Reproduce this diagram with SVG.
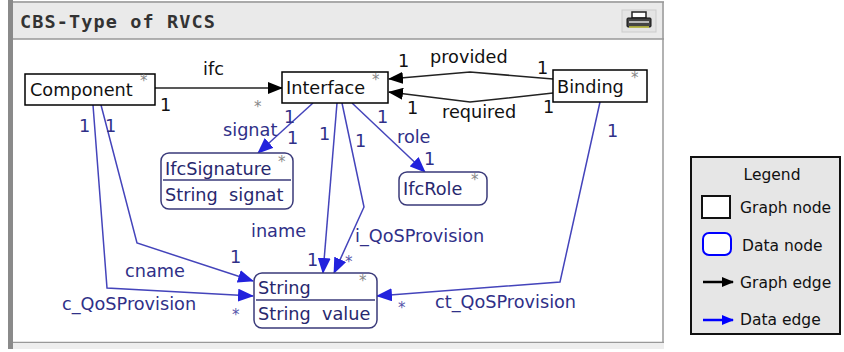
<svg xmlns="http://www.w3.org/2000/svg" width="844" height="352" viewBox="0 0 844 352">
<defs>
<marker id="ab" markerUnits="userSpaceOnUse" markerWidth="15" markerHeight="12" refX="14" refY="6" orient="auto"><path d="M0,0 L15,6 L0,12 z" fill="#000"/></marker>
<marker id="au" markerUnits="userSpaceOnUse" markerWidth="16" markerHeight="13" refX="15" refY="6.5" orient="auto"><path d="M0,0 L16,6.5 L0,13 z" fill="#2222dd"/></marker>
<marker id="lb" markerUnits="userSpaceOnUse" markerWidth="12" markerHeight="12" refX="11" refY="6" orient="auto"><path d="M0,1 L12,6 L0,11 z" fill="#000"/></marker>
<marker id="lu" markerUnits="userSpaceOnUse" markerWidth="12" markerHeight="12" refX="11" refY="6" orient="auto"><path d="M0,1 L12,6 L0,11 z" fill="#0000ff"/></marker>
</defs>
<style>
text{font-family:"DejaVu Sans","Liberation Sans",sans-serif;font-size:17.7px}
.gn{fill:#fff;stroke:#000;stroke-width:1.5}
.dn{fill:#fff;stroke:#3a3a7a;stroke-width:1.5}
.ge{fill:none;stroke:#222;stroke-width:1.5}
.de{fill:none;stroke:#4444bb;stroke-width:1.5}
.k{fill:#111}
.b{fill:#303088}
.dt{fill:#28286e}
.st{fill:#888;font-size:15px}
.sb{fill:#5555aa;font-size:15px}
.lg{font-size:15.5px;fill:#111}
</style>
<!-- window frame -->
<rect x="0" y="0" width="844" height="352" fill="#fff"/>
<rect x="13" y="2" width="651" height="37" fill="#eaeaea"/>
<line x1="13" y1="2" x2="664" y2="2" stroke="#aaa" stroke-width="2"/>
<line x1="13" y1="39" x2="664" y2="39" stroke="#999" stroke-width="1.5"/>
<rect x="13" y="40" width="650" height="302" fill="#fff"/>
<line x1="663" y1="2" x2="663" y2="343" stroke="#999" stroke-width="1.5"/>
<line x1="13" y1="342.5" x2="664" y2="342.5" stroke="#999" stroke-width="1.5"/>
<rect x="13" y="343" width="651" height="6" fill="#eee"/>
<rect x="8" y="0" width="5" height="349" fill="#8a8a8a"/>
<text x="20" y="28" font-weight="bold" fill="#333" textLength="195" lengthAdjust="spacing" style="font-family:'DejaVu Sans Mono',monospace;font-size:18.5px">CBS-Type of RVCS</text>
<g id="printer">
<rect x="622" y="10" width="34" height="22" fill="#e4e4e4" stroke="#ccc"/>
<rect x="632" y="12" width="14" height="6" fill="#fff" stroke="#222" stroke-width="1.5"/>
<rect x="627" y="18" width="24" height="9" rx="1" fill="#444" stroke="#111"/>
<line x1="629" y1="22" x2="649" y2="22" stroke="#ddd" stroke-width="1.5"/>
<line x1="629" y1="27" x2="649" y2="27" stroke="#cc4" stroke-width="1.5"/>
</g>
<!-- connectors -->
<g id="connectors">
<path class="ge" d="M155,88 L282,88" marker-end="url(#ab)"/>
<path class="ge" d="M553,79 L470,72 L389,79" marker-end="url(#ab)"/>
<path class="ge" d="M553,93 L470,102 L389,92" marker-end="url(#ab)"/>
<path class="de" d="M313,103 L258,153" marker-end="url(#au)"/>
<path class="de" d="M337,103 L323,273" marker-end="url(#au)"/>
<path class="de" d="M342,103 L364,207 L334,273" marker-end="url(#au)"/>
<path class="de" d="M352,103 L425,172" marker-end="url(#au)"/>
<path class="de" d="M101,105 L137,243 L253,281" marker-end="url(#au)"/>
<path class="de" d="M93,105 L107,288 L253,296" marker-end="url(#au)"/>
<path class="de" d="M600,102 L560,282 L377,296" marker-end="url(#au)"/>
<text class="k" x="203" y="75">ifc</text>
<text class="k" x="160" y="111">1</text>
<text class="st" x="254" y="112">*</text>
<text class="k" x="430" y="63">provided</text>
<text class="k" x="442" y="118">required</text>
<text class="k" x="398" y="67">1</text>
<text class="k" x="537" y="74">1</text>
<text class="k" x="407" y="114">1</text>
<text class="k" x="543" y="113">1</text>
<text class="b" x="223" y="136">signat</text>
<text class="b" x="284" y="123">1</text>
<text class="b" x="287" y="144">1</text>
<text class="b" x="251" y="237">iname</text>
<text class="b" x="319" y="140">1</text>
<text class="b" x="307" y="266">1</text>
<text class="b" x="355" y="242">i_QoSProvision</text>
<text class="b" x="355" y="147">1</text>
<text class="sb" x="345" y="267">*</text>
<text class="b" x="397" y="143">role</text>
<text class="b" x="377" y="123">1</text>
<text class="b" x="424" y="165">1</text>
<text class="b" x="125" y="277">cname</text>
<text class="b" x="105" y="132">1</text>
<text class="b" x="79" y="132">1</text>
<text class="b" x="230" y="263">1</text>
<text class="b" x="62" y="310">c_QoSProvision</text>
<text class="sb" x="232" y="320">*</text>
<text class="b" x="435" y="308">ct_QoSProvision</text>
<text class="b" x="607" y="137">1</text>
<text class="sb" x="398" y="313">*</text>
</g>
<!-- nodes -->
<g id="Component">
<rect class="gn" x="25" y="74" width="130" height="31"/>
<text class="k" x="30" y="96">Component</text>
<text class="st" x="140" y="86">*</text>
</g>
<g id="Interface">
<rect class="gn" x="282" y="72" width="106" height="31"/>
<text class="k" x="286" y="94">Interface</text>
<text class="st" x="372" y="85">*</text>
</g>
<g id="Binding">
<rect class="gn" x="553" y="70" width="94" height="32"/>
<text class="k" x="557" y="93">Binding</text>
<text class="st" x="631" y="83">*</text>
</g>
<g id="IfcSignature">
<rect class="dn" x="161" y="153" width="132" height="56" rx="8"/>
<line x1="163" y1="180" x2="291" y2="180" stroke="#3a3a7a" stroke-width="1.5"/>
<text class="dt" x="165" y="175">IfcSignature</text>
<text class="dt" x="165" y="201" xml:space="preserve">String  signat</text>
<text class="st" x="278" y="167">*</text>
</g>
<g id="IfcRole">
<rect class="dn" x="399" y="172" width="88" height="33" rx="8"/>
<text class="dt" x="403" y="195">IfcRole</text>
<text class="st" x="471" y="185">*</text>
</g>
<g id="String">
<rect class="dn" x="254" y="273" width="123" height="55" rx="8"/>
<line x1="256" y1="300" x2="375" y2="300" stroke="#3a3a7a" stroke-width="1.5"/>
<text class="dt" x="258" y="294">String</text>
<text class="dt" x="258" y="320" xml:space="preserve">String  value</text>
<text class="st" x="359" y="286">*</text>
</g>
<!-- legend -->
<g id="legend">
<rect x="691" y="157" width="149" height="177" fill="#e6e6e6" stroke="#111" stroke-width="2"/>
<text class="lg" x="772" y="180" text-anchor="middle">Legend</text>
<rect x="702" y="196" width="28" height="22" fill="#fff" stroke="#111" stroke-width="2"/>
<text class="lg" x="740" y="213">Graph node</text>
<rect x="703" y="233" width="28" height="22" rx="6" fill="#fff" stroke="#0000ff" stroke-width="2"/>
<text class="lg" x="742" y="251">Data node</text>
<path d="M703,282 L733,282" stroke="#000" stroke-width="2.5" marker-end="url(#lb)"/>
<text class="lg" x="740" y="288">Graph edge</text>
<path d="M703,320 L733,320" stroke="#0000ff" stroke-width="2.5" marker-end="url(#lu)"/>
<text class="lg" x="740" y="325">Data edge</text>
</g>
</svg>
